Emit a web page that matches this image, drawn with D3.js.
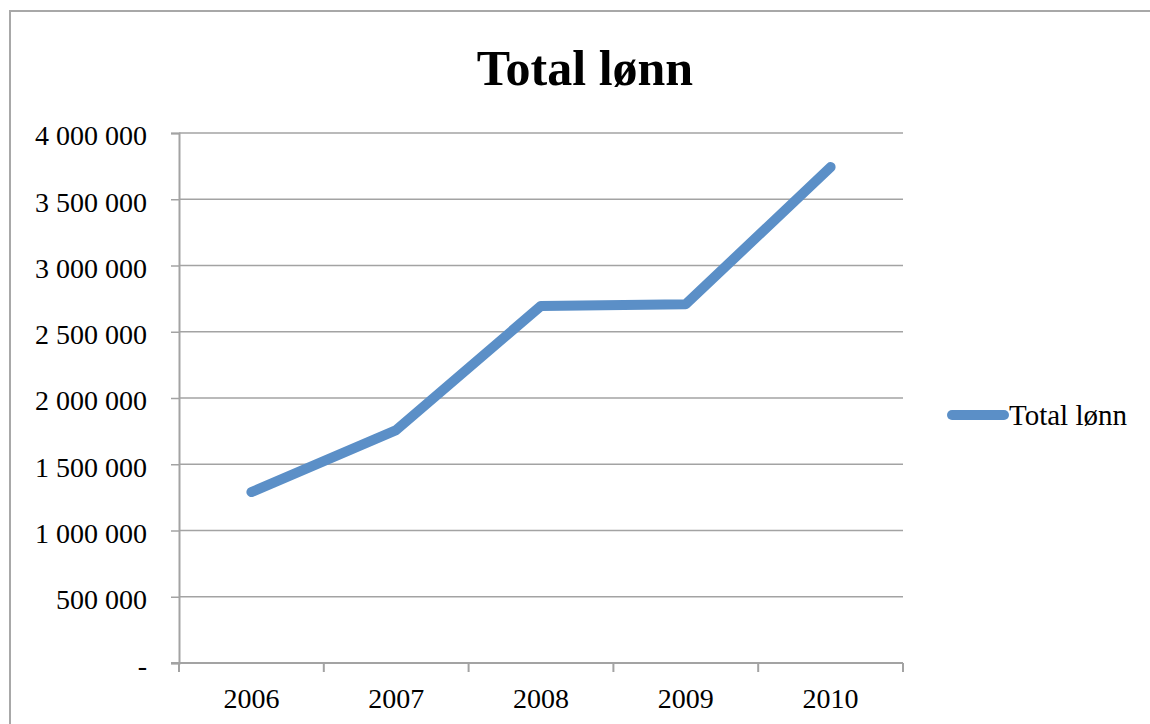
<!DOCTYPE html>
<html>
<head>
<meta charset="utf-8">
<script src="https://cdn.jsdelivr.net/npm/d3@7"></script>
<style>
  html, body { margin: 0; padding: 0; background: #ffffff; }
  svg { display: block; }
  text { font-family: "Liberation Serif", "Times New Roman", serif; fill: #000; }
</style>
</head>
<body>
<svg id="chart" width="1150" height="724"></svg>
<script>
// Total payroll per year
const years = ["2006", "2007", "2008", "2009", "2010"];
const totalLonn = [1290000, 1758000, 2695000, 2708000, 3743000];
const yTicks = [0, 500000, 1000000, 1500000, 2000000, 2500000, 3000000, 3500000, 4000000];
const seriesName = "Total lønn";
const chartTitle = "Total lønn";

const svg = d3.select("#chart");
const W = 1150, H = 724;
const plot = { left: 179, right: 903, top: 133, bottom: 663 };
const lineColor = "#5b8fc7";
const gridColor = "#a3a3a3";

// outer chart frame (continues past the right and bottom edges)
svg.append("rect")
  .attr("x", 10).attr("y", 11)
  .attr("width", 1300).attr("height", 900)
  .attr("fill", "none")
  .attr("stroke", "#a8a8a8")
  .attr("stroke-width", 2);

const x = d3.scaleBand().domain(years).range([plot.left, plot.right]).padding(0);
const y = d3.scaleLinear().domain([0, 4000000]).range([plot.bottom, plot.top]);

const nb = d3.formatLocale({ decimal: ",", thousands: " ", grouping: [3], currency: ["", " kr"] });
const fmt = nb.format(",.0f");
const yFormat = v => v === 0 ? "-" : fmt(v);

// horizontal gridlines
svg.append("g")
  .selectAll("line")
  .data(yTicks.filter(v => v > 0))
  .join("line")
  .attr("x1", plot.left).attr("x2", plot.right)
  .attr("y1", d => y(d)).attr("y2", d => y(d))
  .attr("stroke", gridColor)
  .attr("stroke-width", 1.5);

// y axis
const yAxis = svg.append("g")
  .attr("transform", `translate(${plot.left},0)`)
  .call(d3.axisLeft(y).tickValues(yTicks).tickFormat(yFormat).tickSize(8).tickPadding(24));
yAxis.select(".domain").attr("stroke", gridColor).attr("stroke-width", 2);
yAxis.selectAll(".tick line").attr("stroke", gridColor).attr("stroke-width", 1.5);
yAxis.selectAll(".tick text")
  .attr("font-family", "Liberation Serif, serif")
  .attr("font-size", 28)
  .attr("fill", "#000")
  .attr("dy", "0.42em");

// x axis: ticks at band boundaries, labels at band centres
const xAxisG = svg.append("g").attr("transform", `translate(0,${plot.bottom})`);
xAxisG.append("line")
  .attr("x1", plot.left - 8).attr("x2", plot.right)
  .attr("y1", 0).attr("y2", 0)
  .attr("stroke", gridColor).attr("stroke-width", 2);
const boundaries = years.map(d => x(d)).concat([x(years[years.length - 1]) + x.bandwidth()]);
xAxisG.selectAll("line.tk")
  .data(boundaries)
  .join("line")
  .attr("class", "tk")
  .attr("x1", d => d).attr("x2", d => d)
  .attr("y1", 0).attr("y2", 9)
  .attr("stroke", gridColor).attr("stroke-width", 2);
xAxisG.selectAll("text")
  .data(years)
  .join("text")
  .attr("x", d => x(d) + x.bandwidth() / 2)
  .attr("y", 45)
  .attr("text-anchor", "middle")
  .attr("font-size", 28)
  .text(d => d);

// data line
const line = d3.line()
  .x((d, i) => x(years[i]) + x.bandwidth() / 2)
  .y(d => y(d));
svg.append("path")
  .datum(totalLonn)
  .attr("d", line)
  .attr("fill", "none")
  .attr("stroke", lineColor)
  .attr("stroke-width", 10)
  .attr("stroke-linecap", "round")
  .attr("stroke-linejoin", "round");

// title
svg.append("text")
  .attr("x", 585).attr("y", 85)
  .attr("text-anchor", "middle")
  .attr("font-size", 50)
  .attr("font-weight", "bold")
  .text(chartTitle);

// legend
const lg = svg.append("g");
lg.append("line")
  .attr("x1", 952).attr("x2", 1004)
  .attr("y1", 415).attr("y2", 415)
  .attr("stroke", lineColor)
  .attr("stroke-width", 10)
  .attr("stroke-linecap", "round");
lg.append("text")
  .attr("x", 1009).attr("y", 425)
  .attr("font-size", 29)
  .text(seriesName);
</script>
</body>
</html>
